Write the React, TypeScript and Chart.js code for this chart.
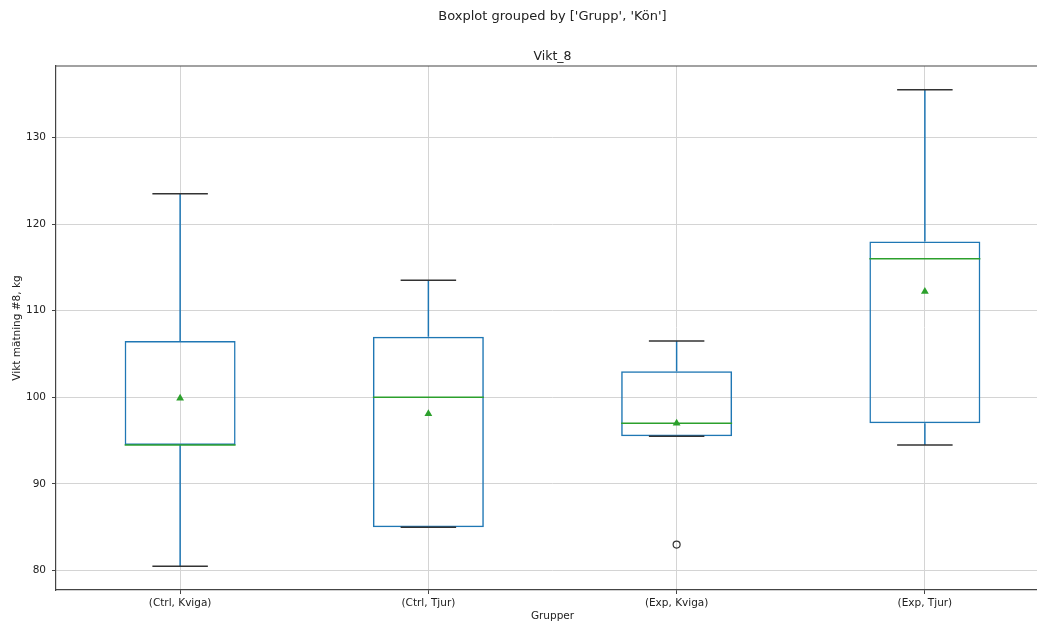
import React, { useEffect, useRef } from "react";
import { Chart, registerables } from "chart.js";

Chart.register(...registerables);

const categories = ["(Ctrl, Kviga)", "(Ctrl, Tjur)", "(Exp, Kviga)", "(Exp, Tjur)"];
const whiskerLow = [80.5, 85, 95.5, 94.5];
const q1 = [94.5, 85, 95.5, 97];
const medians = [94.5, 100, 97, 116];
const q3 = [106.5, 107, 103, 118];
const whiskerHigh = [123.5, 113.5, 106.5, 135.5];
const means = [99.9, 98.1, 97, 112.2];
const outliers = [null, null, 83, null];
const yTicks = [80, 90, 100, 110, 120, 130];

const BLUE = "#1f77b4";
const GREEN = "#2ca02c";
const FONT = "'DejaVu Sans', sans-serif";
const TEXT = "#222";

const boxPlugin = {
  id: "boxParts",
  afterDatasetDraw(chart: any, args: any) {
    if (args.index !== 0) return;
    const ctx = chart.ctx;
    const x = chart.scales.x;
    const y = chart.scales.y;
    const meta = chart.getDatasetMeta(0);
    ctx.save();
    ctx.lineWidth = 1.5;
    categories.forEach((_, i) => {
      const cx = x.getPixelForValue(i);
      const w = meta.data[i].width;
      // whiskers
      ctx.strokeStyle = BLUE;
      ctx.beginPath();
      ctx.moveTo(cx, y.getPixelForValue(q1[i]));
      ctx.lineTo(cx, y.getPixelForValue(whiskerLow[i]));
      ctx.moveTo(cx, y.getPixelForValue(q3[i]));
      ctx.lineTo(cx, y.getPixelForValue(whiskerHigh[i]));
      ctx.stroke();
      // caps
      ctx.strokeStyle = "#333";
      ctx.beginPath();
      const cw = w / 4;
      [whiskerLow[i], whiskerHigh[i]].forEach((v) => {
        const py = y.getPixelForValue(v);
        ctx.moveTo(cx - cw, py);
        ctx.lineTo(cx + cw, py);
      });
      ctx.stroke();
      // median
      ctx.strokeStyle = GREEN;
      ctx.beginPath();
      const my = y.getPixelForValue(medians[i]);
      ctx.moveTo(cx - w / 2, my);
      ctx.lineTo(cx + w / 2, my);
      ctx.stroke();
    });
    ctx.restore();
  },
  afterDraw(chart: any) {
    const { ctx, chartArea } = chart;
    ctx.save();
    ctx.strokeStyle = "#444";
    ctx.lineWidth = 1.2;
    ctx.beginPath();
    ctx.moveTo(chartArea.left, chartArea.top);
    ctx.lineTo(chartArea.right, chartArea.top);
    ctx.lineTo(chartArea.right, chartArea.bottom);
    ctx.stroke();
    ctx.restore();
  },
};

export default function App() {
  const ref = useRef<HTMLCanvasElement | null>(null);
  useEffect(() => {
    if (!ref.current) return;
    const chart = new Chart(ref.current, {
      type: "bar",
      data: {
        labels: categories,
        datasets: [
          {
            type: "bar",
            data: categories.map((_, i) => [q1[i], q3[i]]),
            backgroundColor: "rgba(0,0,0,0)",
            borderColor: BLUE,
            borderWidth: 1.5,
            borderSkipped: false,
            barPercentage: 0.447,
            categoryPercentage: 1,
            order: 3,
          } as any,
          {
            type: "line",
            data: outliers,
            showLine: false,
            pointStyle: "circle",
            pointRadius: 3.5,
            pointBorderWidth: 1.2,
            pointBorderColor: "#333",
            pointBackgroundColor: "rgba(0,0,0,0)",
            order: 2,
          } as any,
          {
            type: "line",
            data: means,
            showLine: false,
            pointStyle: "triangle",
            pointRadius: 4.5,
            pointBorderWidth: 0,
            pointBorderColor: GREEN,
            pointBackgroundColor: GREEN,
            order: 1,
          } as any,
        ],
      },
      options: {
        responsive: false,
        animation: false,
        layout: { padding: { left: 0, right: 57, top: 0, bottom: 0 } },
        plugins: {
          legend: { display: false },
          tooltip: { enabled: false },
          title: {
            display: true,
            fullSize: false,
            text: "Boxplot grouped by ['Grupp', 'Kön']",
            color: TEXT,
            font: { family: FONT, size: 13, weight: "normal" },
            padding: { top: 8.7, bottom: 15.7 },
          },
          subtitle: {
            display: true,
            fullSize: false,
            text: "Vikt_8",
            color: TEXT,
            font: { family: FONT, size: 12.5, weight: "normal" },
            padding: { top: 9, bottom: 2 },
          },
        },
        scales: {
          x: {
            type: "category",
            offset: true,
            grid: {
              offset: false,
              color: "#d4d4d4",
              lineWidth: 1,
              tickColor: "#444",
              tickLength: 4,
              drawTicks: true,
            },
            border: { display: true, color: "#444", width: 1.2 },
            ticks: {
              color: TEXT,
              font: { family: FONT, size: 10.5 },
              padding: 3,
              maxRotation: 0,
            },
            title: {
              display: true,
              text: "Grupper",
              color: TEXT,
              font: { family: FONT, size: 10.5 },
              padding: { top: 0, bottom: 2 },
            },
            afterFit(scale: any) {
              scale.height = 35;
            },
          },
          y: {
            type: "linear",
            min: 77.75,
            max: 138.25,
            grid: {
              color: "#d4d4d4",
              lineWidth: 1,
              tickColor: "#444",
              tickLength: 4,
            },
            border: { display: true, color: "#444", width: 1.2 },
            ticks: {
              color: TEXT,
              font: { family: FONT, size: 10.5 },
              padding: 6,
            },
            afterBuildTicks(scale: any) {
              scale.ticks = yTicks.map((v) => ({ value: v }));
            },
            title: {
              display: true,
              text: "Vikt mätning #8, kg",
              color: TEXT,
              font: { family: FONT, size: 10.5 },
              padding: { top: 10.7, bottom: 0 },
            },
            afterFit(scale: any) {
              scale.width = 56;
            },
          },
        },
      },
      plugins: [boxPlugin],
    } as any);
    return () => chart.destroy();
  }, []);
  return (
    <div
      style={{
        position: "fixed",
        left: 0,
        top: 0,
        width: 1037,
        height: 625,
        overflow: "hidden",
        background: "#fff",
      }}
    >
      <canvas ref={ref} width={1106} height={625} style={{ display: "block" }} />
    </div>
  );
}
